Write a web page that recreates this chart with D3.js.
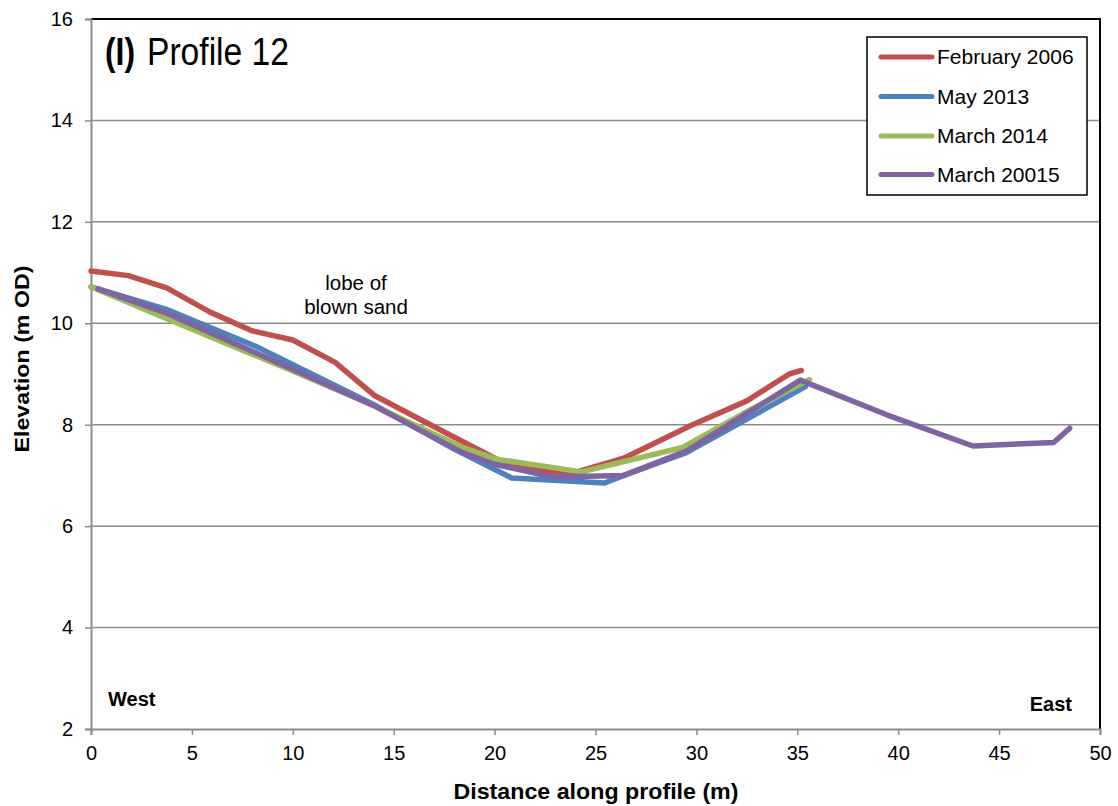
<!DOCTYPE html>
<html>
<head>
<meta charset="utf-8">
<script src="https://cdn.jsdelivr.net/npm/d3@7"></script>
<style>
  body { margin: 0; background: #fff; }
  svg { display: block; }
  text { font-family: "Liberation Sans", Arial, sans-serif; }
</style>
</head>
<body>
<svg id="chart" width="1118" height="806"></svg>
<script>
// ---- data ----
const seriesNames = ["February 2006", "May 2013", "March 2014", "March 20015"];
const feb2006X = [0, 1.85, 3.75, 5.9, 8.0, 10.0, 12.1, 14.07, 17.1, 20.3, 22.6, 24.0, 26.4, 29.7, 32.5, 34.6, 35.2];
const feb2006Y = [11.03, 10.94, 10.70, 10.22, 9.85, 9.67, 9.23, 8.57, 7.94, 7.28, 7.08, 7.06, 7.34, 7.98, 8.47, 9.0, 9.07];
const may2013X = [0, 3.7, 8.3, 14.0, 18.0, 20.85, 25.45, 26.4, 29.5, 35.4];
const may2013Y = [10.72, 10.28, 9.52, 8.4, 7.52, 6.95, 6.85, 7.0, 7.45, 8.75];
const mar2014X = [0, 4.0, 10.0, 14.0, 18.3, 20.1, 24.3, 29.3, 32.7, 35.6];
const mar2014Y = [10.72, 10.05, 9.06, 8.38, 7.57, 7.32, 7.07, 7.55, 8.3, 8.89];
const mar2015X = [0.35, 3.75, 14.0, 18.3, 20.0, 22.9, 26.4, 29.5, 35.15, 39.4, 43.7, 47.7, 48.5];
const mar2015Y = [10.68, 10.2, 8.38, 7.47, 7.22, 6.97, 7.0, 7.48, 8.88, 8.2, 7.58, 7.65, 7.93];
const xTicks = [0, 5, 10, 15, 20, 25, 30, 35, 40, 45, 50];
const yTicks = [2, 4, 6, 8, 10, 12, 14, 16];
const colors = ["#C0504D", "#4F81BD", "#9BBB59", "#8064A2"];

const seriesList = [
  {name: seriesNames[0], xs: feb2006X, ys: feb2006Y},
  {name: seriesNames[1], xs: may2013X, ys: may2013Y},
  {name: seriesNames[2], xs: mar2014X, ys: mar2014Y},
  {name: seriesNames[3], xs: mar2015X, ys: mar2015Y}
];

// ---- layout ----
const L = 91, R = 1100, T = 19, B = 729;
const svg = d3.select("#chart");
const x = d3.scaleLinear().domain([0, 50]).range([L, R]);
const y = d3.scaleLinear().domain([2, 16]).range([B, T]);

// gridlines
svg.append("g").selectAll("line").data(yTicks.filter(v => v > 2 && v < 16)).join("line")
  .attr("x1", L).attr("x2", R).attr("y1", d => y(d)).attr("y2", d => y(d))
  .attr("stroke", "#8c8c8c").attr("stroke-width", 1.5);

// plot border top/right (black)
svg.append("path").attr("d", `M${L},${T}H${R}V${B}`).attr("fill", "none")
  .attr("stroke", "#000").attr("stroke-width", 2);

// y axis
const yAxis = d3.axisLeft(y).tickValues(yTicks).tickSize(6).tickPadding(12).tickFormat(d3.format("d"));
const gy = svg.append("g").attr("transform", `translate(${L},0)`).call(yAxis);
gy.select(".domain").attr("stroke", "#8c8c8c").attr("stroke-width", 2);
gy.selectAll(".tick line").attr("stroke", "#8c8c8c").attr("stroke-width", 1.5);
gy.selectAll(".tick text").attr("font-size", 20).attr("fill", "#000")
  .attr("font-family", "Liberation Sans, Arial, sans-serif");

// x axis
const xAxis = d3.axisBottom(x).tickValues(xTicks).tickSize(6).tickPadding(11).tickFormat(d3.format("d"));
const gx = svg.append("g").attr("transform", `translate(0,${B})`).call(xAxis);
gx.select(".domain").attr("stroke", "#8c8c8c").attr("stroke-width", 2);
gx.selectAll(".tick line").attr("stroke", "#8c8c8c").attr("stroke-width", 1.5);
gx.selectAll(".tick text").attr("font-size", 20).attr("fill", "#000")
  .attr("font-family", "Liberation Sans, Arial, sans-serif");

// lines
const line = d3.line().x(d => x(d[0])).y(d => y(d[1]));
seriesList.forEach((s, i) => {
  const pts = s.xs.map((xv, j) => [xv, s.ys[j]]);
  svg.append("path").datum(pts).attr("d", line)
    .attr("fill", "none").attr("stroke", colors[i]).attr("stroke-width", 5.5)
    .attr("stroke-linejoin", "round").attr("stroke-linecap", "round");
});

// title (two separate texts so they don't overlap)
svg.append("text").attr("x", 105).attr("y", 65)
  .attr("font-family", "'Open Sans', Lato, sans-serif").attr("font-size", 38).attr("font-weight", "bold")
  .attr("textLength", 30).attr("lengthAdjust", "spacingAndGlyphs").text("(I)");
svg.append("text").attr("x", 147).attr("y", 65)
  .attr("font-family", "'Open Sans', Lato, sans-serif").attr("font-size", 38)
  .attr("textLength", 142).attr("lengthAdjust", "spacingAndGlyphs").text("Profile 12");

// annotation
const ann = svg.append("text").attr("font-size", 20.5).attr("text-anchor", "middle");
ann.append("tspan").attr("x", 356).attr("y", 290).text("lobe of");
ann.append("tspan").attr("x", 356).attr("y", 314).text("blown sand");

// West/East
svg.append("text").attr("x", 108).attr("y", 706).attr("font-size", 20).attr("font-weight", "bold").text("West");
svg.append("text").attr("x", 1072).attr("y", 711).attr("font-size", 20).attr("font-weight", "bold")
  .attr("text-anchor", "end").text("East");

// axis titles
svg.append("text").attr("x", 596).attr("y", 799).attr("text-anchor", "middle")
  .attr("font-family", "'Open Sans', Lato, sans-serif").attr("font-weight", "bold").attr("font-size", 22)
  .attr("textLength", 285).attr("lengthAdjust", "spacingAndGlyphs")
  .text("Distance along profile (m)");
svg.append("text").attr("transform", "translate(29,359) rotate(-90)").attr("text-anchor", "middle")
  .attr("font-weight", "bold").attr("font-size", 20)
  .attr("textLength", 187).attr("lengthAdjust", "spacingAndGlyphs")
  .text("Elevation (m OD)");

// legend
const lg = svg.append("g");
lg.append("rect").attr("x", 867).attr("y", 37).attr("width", 220).attr("height", 158)
  .attr("fill", "#fff").attr("stroke", "#000").attr("stroke-width", 1.5);
const legY = [57, 96.5, 136, 174.5];
seriesList.forEach((s, i) => {
  lg.append("line").attr("x1", 881).attr("x2", 932).attr("y1", legY[i]).attr("y2", legY[i])
    .attr("stroke", colors[i]).attr("stroke-width", 5).attr("stroke-linecap", "round");
  lg.append("text").attr("x", 937).attr("y", legY[i] + 7).attr("font-size", 21).text(s.name);
});
</script>
</body>
</html>
